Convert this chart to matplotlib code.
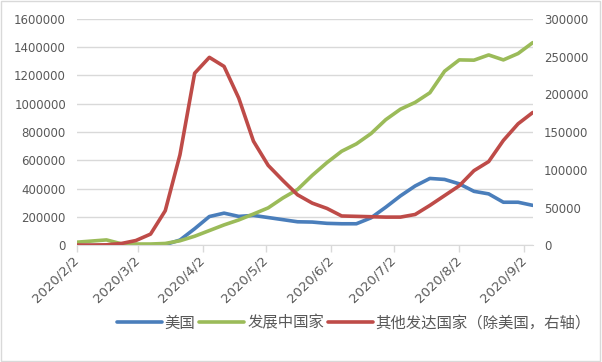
import numpy as np
import pandas as pd
import matplotlib
matplotlib.use("Agg")
import matplotlib.pyplot as plt
import matplotlib.transforms as mtransforms
from matplotlib.ticker import StrMethodFormatter
from matplotlib.patches import Rectangle

plt.rcParams['font.family'] = ['Noto Sans CJK SC', 'DejaVu Sans']

# --- data (weekly) ---
weeks = [
    "2020-02-02", "2020-02-09", "2020-02-16", "2020-02-23", "2020-03-01",
    "2020-03-08", "2020-03-15", "2020-03-22", "2020-03-29", "2020-04-05",
    "2020-04-12", "2020-04-19", "2020-04-26", "2020-05-03", "2020-05-10",
    "2020-05-17", "2020-05-24", "2020-05-31", "2020-06-07", "2020-06-14",
    "2020-06-21", "2020-06-28", "2020-07-05", "2020-07-12", "2020-07-19",
    "2020-07-26", "2020-08-02", "2020-08-09", "2020-08-16", "2020-08-23",
    "2020-08-30", "2020-09-06",
]
usa = [0, 0, 0, 100, 400, 1500, 6000, 38000, 118000, 204000,
       228000, 205000, 212000, 197000, 182000, 167000, 165000, 156000, 153000, 153000,
       195000, 270000, 350000, 420000, 473000, 466000, 435000, 382000, 364000, 305000,
       305000, 283000]
developing = [23000, 31000, 39000, 12000, 10000, 10000, 14000, 33000, 65000, 105000,
              145000, 180000, 222000, 265000, 335000, 395000, 495000, 585000, 665000, 717000,
              790000, 888000, 962000, 1010000, 1078000, 1230000, 1310000, 1308000, 1345000, 1310000,
              1355000, 1432000]
other_dev = [500, 500, 800, 2500, 6500, 15000, 46000, 120000, 228000, 249000,
             237000, 195000, 138000, 106000, 86000, 67000, 56000, 49000, 39000, 38500,
             38000, 37500, 37500, 41000, 53000, 66000, 79000, 99000, 111000, 139000,
             161000, 176000]
labels = ["美国", "发展中国家", "其他发达国家（除美国，右轴）"]
tick_dates = ["2020-02-02", "2020-03-02", "2020-04-02", "2020-05-02",
              "2020-06-02", "2020-07-02", "2020-08-02", "2020-09-02"]
tick_labels = ["2020/2/2", "2020/3/2", "2020/4/2", "2020/5/2",
               "2020/6/2", "2020/7/2", "2020/8/2", "2020/9/2"]

x = pd.to_datetime(weeks)
txt = "#595959"
grid = "#D9D9D9"

fig = plt.figure(figsize=(6.02, 3.62), dpi=100)
ax = fig.add_axes([0.128, 0.322, 0.757, 0.626])
ax2 = ax.twinx()

l1, = ax.plot(x, usa, color="#4A7EBB", lw=2.6, solid_capstyle="round")
l2, = ax.plot(x, developing, color="#9BBB59", lw=2.6, solid_capstyle="round")
l3, = ax2.plot(x, other_dev, color="#BE4B48", lw=2.6, solid_capstyle="round")

ax.set_ylim(0, 1600000)
ax.set_yticks(np.arange(0, 1600001, 200000))
ax.yaxis.set_major_formatter(StrMethodFormatter("{x:.0f}"))
ax2.set_ylim(0, 300000)
ax2.set_yticks(np.arange(0, 300001, 50000))
ax2.yaxis.set_major_formatter(StrMethodFormatter("{x:.0f}"))
ax.set_xlim(x[0], x[-1])
ax.set_xticks(pd.to_datetime(tick_dates))
ax.set_xticklabels(tick_labels, rotation=45, ha="right", va="center",
                   rotation_mode="anchor", family=["DejaVu Sans"])
shift = mtransforms.ScaledTranslation(5 / 72, -6 / 72, fig.dpi_scale_trans)
for lab in ax.get_xticklabels():
    lab.set_transform(lab.get_transform() + shift)

ax.grid(axis="y", color=grid, lw=1)
ax.set_axisbelow(True)
for a in (ax, ax2):
    for s in a.spines.values():
        s.set_visible(False)
ax.spines["bottom"].set_visible(True)
ax.spines["bottom"].set_color(grid)
ax.tick_params(axis="x", colors=grid, length=5, width=1, labelcolor=txt, labelsize=9.5, pad=4)
ax.tick_params(axis="y", length=0, labelcolor=txt, labelsize=8.5, pad=8)
ax2.tick_params(axis="y", length=0, labelcolor=txt, labelsize=8.5, pad=8)
for lab in ax.get_yticklabels() + ax2.get_yticklabels():
    lab.set_family(["DejaVu Sans"])

fig.legend([l1, l2, l3], labels, loc="center", bbox_to_anchor=(0.588, 0.108), ncol=3,
           frameon=False, handlelength=2.9, handletextpad=0.2, columnspacing=0.25,
           prop={"size": 11.1}, labelcolor=txt)

fig.add_artist(Rectangle((0.002, 0.003), 0.995, 0.993, transform=fig.transFigure,
                         fill=False, edgecolor=grid, lw=1))

fig.savefig("out.png", dpi=100)
